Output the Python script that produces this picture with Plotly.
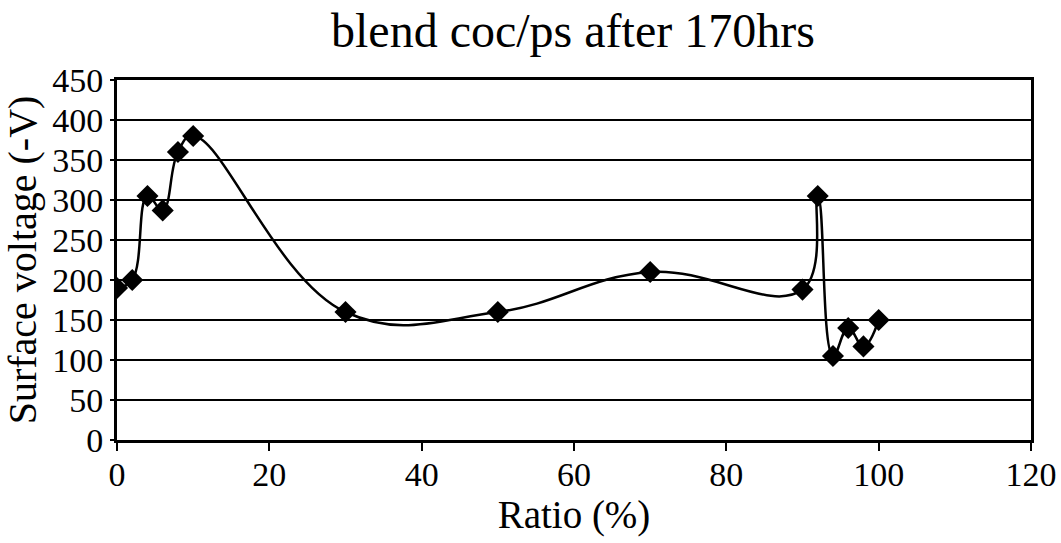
import plotly.graph_objects as go

ratio = [0, 2, 4, 6, 8, 10, 30, 50, 70, 90, 92, 94, 96, 98, 100]
voltage = [190, 200, 305, 287, 360, 380, 160, 160, 210, 188, 305, 105, 140, 117, 150]

x_ticks = [0, 20, 40, 60, 80, 100, 120]
y_ticks = [0, 50, 100, 150, 200, 250, 300, 350, 400, 450]

FONT = "Times New Roman, Liberation Serif, serif"

fig = go.Figure()
fig.add_trace(go.Scatter(
    x=ratio, y=voltage, mode="lines+markers",
    line=dict(color="black", width=2.5, shape="spline", smoothing=1.2),
    marker=dict(symbol="diamond", size=17, color="black"),
    showlegend=False,
))

fig.update_layout(
    width=1061, height=543,
    margin=dict(l=117, r=30, t=80, b=103, autoexpand=False),
    paper_bgcolor="white", plot_bgcolor="white",
    font=dict(family=FONT, color="black", size=34),
    title=dict(text="blend coc/ps after 170hrs", x=0.54, xanchor="center",
               y=0.975, yanchor="top", font=dict(size=48, family=FONT)),
    xaxis=dict(range=[0, 120], tickvals=x_ticks, showgrid=False, automargin=False,
               showline=True, linecolor="black", linewidth=3, mirror=True,
               ticks="outside", ticklen=8, tickwidth=2, tickcolor="black",
               ticklabelstandoff=-6,
               title=dict(text="Ratio (%)", font=dict(size=39, family=FONT), standoff=4),
               tickfont=dict(size=34, family=FONT), zeroline=False),
    yaxis=dict(range=[0, 450], tickvals=y_ticks, showgrid=True, automargin=False,
               gridcolor="black", gridwidth=2,
               showline=True, linecolor="black", linewidth=3, mirror=True,
               ticks="outside", ticklen=4, tickwidth=2, tickcolor="black",
               title=dict(text="Surface voltage (-V)", font=dict(size=40, family=FONT), standoff=4),
               tickfont=dict(size=34, family=FONT), zeroline=False),
)

fig.write_html("out.html", config={"displayModeBar": False},
               post_script="document.body.style.margin='0';")
